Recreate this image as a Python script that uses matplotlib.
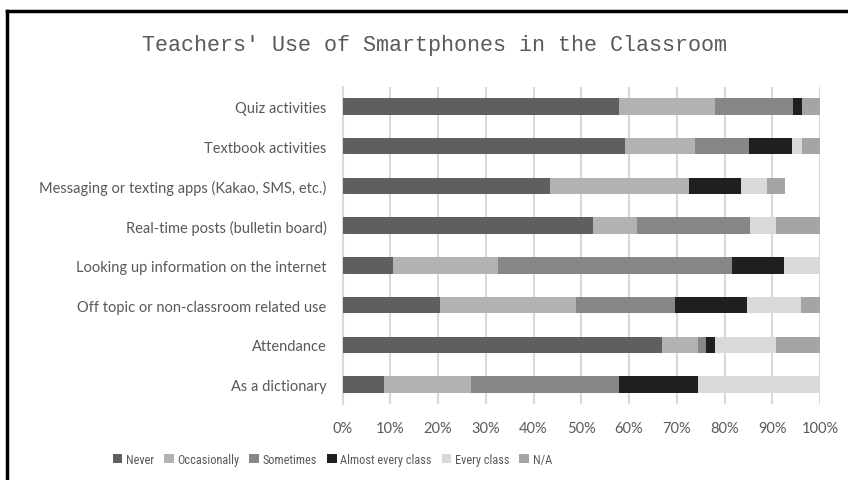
import matplotlib
matplotlib.use("Agg")
import numpy as np
from matplotlib import pyplot as plt
from matplotlib.lines import Line2D
from matplotlib import font_manager

# survey categories, top to bottom
categories = [
    "Quiz activities",
    "Textbook activities",
    "Messaging or texting apps (Kakao, SMS, etc.)",
    "Real-time posts (bulletin board)",
    "Looking up information on the internet",
    "Off topic or non-classroom related use",
    "Attendance",
    "As a dictionary",
]

series_names = ["Never", "Occasionally", "Sometimes", "Almost every class", "Every class", "N/A"]

# percentages per category, same order as categories
never        = [58.0, 59.1, 43.4, 52.5, 10.6, 20.5, 67.0,  8.7]
occasionally = [20.0, 14.8, 29.2,  9.1, 21.9, 28.4,  7.4, 18.3]
sometimes    = [16.4, 11.2,  0.0, 23.7, 49.1, 20.8,  1.7, 30.95]
almost_every = [ 1.8,  9.1, 10.8,  0.0, 10.9, 15.0,  1.9, 16.45]
every_class  = [ 0.0,  2.1,  5.6,  5.5,  7.5, 11.4, 12.8, 25.6]
not_answered = [ 3.8,  3.7,  3.7,  9.2,  0.0,  3.9,  9.2,  0.0]

series = [never, occasionally, sometimes, almost_every, every_class, not_answered]
colors = ["#5f5f5f", "#b2b2b2", "#878787", "#1f1f1f", "#d9d9d9", "#a5a5a5"]

text_color = "#595959"
label_font = ["Lato", "DejaVu Sans"]

# a condensed face for the legend if one is around
installed = {f.name for f in font_manager.fontManager.ttflist}
narrow = [n for n in ["Liberation Sans Narrow", "Roboto Condensed", "DejaVu Sans Condensed"] if n in installed]
legend_font = narrow[:1] + label_font
legend_size = 8.8 if narrow else 7

fig = plt.figure(figsize=(8.48, 4.81), dpi=100)
ax = fig.add_axes([0.404, 0.157, 0.563, 0.661])

y = np.arange(len(categories))
left = np.zeros(len(categories))
for vals, name, col in zip(series, series_names, colors):
    vals = np.array(vals)
    ax.barh(y, vals, left=left, height=0.41, color=col, label=name, zorder=3)
    left += vals

ax.set_xlim(0, 100)
ax.set_ylim(len(categories) - 0.5, -0.5)
ax.set_xticks(np.arange(0, 101, 10))
ax.set_xticklabels([f"{v}%" for v in range(0, 101, 10)])
ax.set_yticks(y)
ax.set_yticklabels(categories)

ax.grid(axis="x", color="#d9d9d9", linewidth=1.5, zorder=0)
for s in ["top", "right", "bottom"]:
    ax.spines[s].set_visible(False)
ax.spines["left"].set_color("#d9d9d9")
ax.spines["left"].set_linewidth(1.5)
ax.tick_params(axis="both", length=0, labelcolor=text_color, labelsize=10.5)
ax.tick_params(axis="y", pad=11.5)
ax.tick_params(axis="x", pad=12)
for lbl in ax.get_xticklabels() + ax.get_yticklabels():
    lbl.set_family(label_font)

fig.text(0.512, 0.905, "Teachers' Use of Smartphones in the Classroom",
         ha="center", va="center", family="Liberation Mono",
         fontsize=15.7, color=text_color)

leg = fig.legend(loc="center", bbox_to_anchor=(0.392, 0.043), ncol=6, frameon=False,
                 handlelength=0.8, handleheight=0.8, handletextpad=0.3,
                 columnspacing=0.8, prop={"family": legend_font, "size": legend_size})
for t in leg.get_texts():
    t.set_color(text_color)

# partial black frame along the top and left edges
fig.add_artist(Line2D([7 / 848, 1.0], [1 - 12 / 481, 1 - 12 / 481],
                      transform=fig.transFigure, color="black", linewidth=2.5))
fig.add_artist(Line2D([7 / 848, 7 / 848], [0.0, 1 - 12 / 481],
                      transform=fig.transFigure, color="black", linewidth=2.5))

fig.savefig("out.png", dpi=100, facecolor="white")
